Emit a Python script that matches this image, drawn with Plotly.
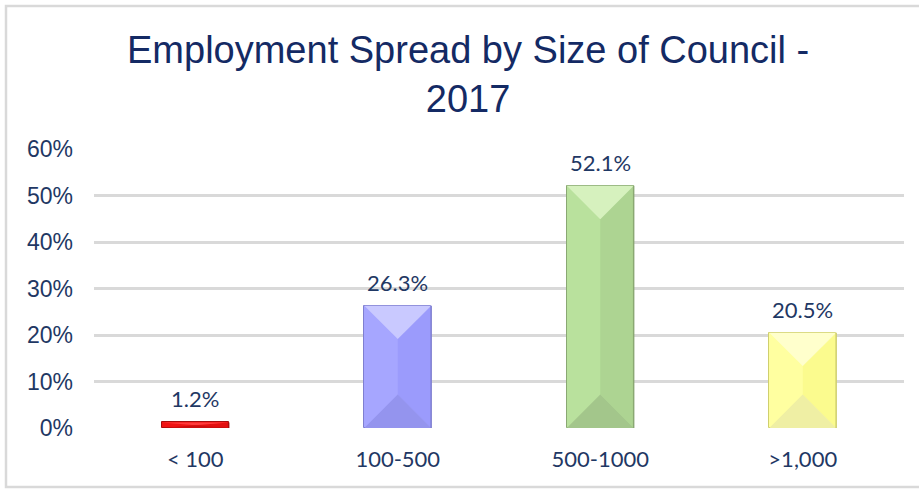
import plotly.graph_objects as go

# Chart data
categories = ["< 100", "100-500", "500-1000", ">1,000"]
shares = [0.012, 0.263, 0.521, 0.205]
labels = ["1.2%", "26.3%", "52.1%", "20.5%"]
y_ticks = [0, 0.1, 0.2, 0.3, 0.4, 0.5, 0.6]
y_tick_text = ["0%", "10%", "20%", "30%", "40%", "50%", "60%"]

# Bevel palette per bar: (base/left, right face, top facet, bottom facet, outline)
palettes = [
    ("#f01414", "#e31010", "#ff3c3c", "#cc0e0e", "#a80c0c"),
    ("#a6a6ff", "#9b9bfc", "#c9c9ff", "#9494ee", "#7f7fd0"),
    ("#b9e19d", "#add492", "#d6f1be", "#a3c68b", "#8aa873"),
    ("#ffffa0", "#fbfb8e", "#ffffcc", "#efefa4", "#cfcf6e"),
]

W, H = 919, 489
M_L, M_R, M_T, M_B = 94, 15, 149, 61
Y_MAX = 0.6
BAR_W = 0.33
X_RANGE = (-0.5, len(categories) - 0.5)

plot_w = W - M_L - M_R
plot_h = H - M_T - M_B
px_per_x = plot_w / (X_RANGE[1] - X_RANGE[0])
px_per_y = plot_h / Y_MAX

xs = list(range(len(categories)))

fig = go.Figure()

fig.add_trace(go.Bar(
    x=xs, y=shares, width=BAR_W,
    marker=dict(color=[p[0] for p in palettes],
                line=dict(color=[p[4] for p in palettes], width=1)),
    hoverinfo="skip", showlegend=False,
))

# Bevelled facets drawn over each bar
for i, (v, pal) in enumerate(zip(shares, palettes)):
    x0, x1 = i - BAR_W / 2, i + BAR_W / 2
    depth_px = min(BAR_W * px_per_x / 2, v * px_per_y / 2)
    d = depth_px / px_per_y
    facets = [
        ([i, x1, x1, i, i], [v - d, v, 0, d, v - d], pal[1]),
        ([x0, x1, i, x0], [v, v, v - d, v], pal[2]),
        ([x0, x1, i, x0], [0, 0, d, 0], pal[3]),
    ]
    for fx, fy, col in facets:
        fig.add_trace(go.Scatter(
            x=fx, y=fy, fill="toself", fillcolor=col, mode="lines",
            line=dict(width=0), hoverinfo="skip", showlegend=False,
        ))
    # thin darker rim on the right edge
    fig.add_trace(go.Scatter(
        x=[x1, x1], y=[0, v], mode="lines",
        line=dict(color=pal[4], width=1.5), hoverinfo="skip", showlegend=False,
    ))

for i, (v, t) in enumerate(zip(shares, labels)):
    fig.add_annotation(
        x=i, y=v, text=t, showarrow=False, yanchor="bottom", yshift=8,
        font=dict(family="Lato", size=22, color="#1f3864"),
    )

# Chart title, two lines
fig.add_annotation(
    xref="paper", yref="paper",
    x=(468 - M_L) / plot_w, y=(H - M_B - 74) / plot_h,
    xanchor="center", yanchor="middle", showarrow=False,
    text="Employment Spread by Size of Council -<br>2017",
    font=dict(family="Liberation Sans", size=38, color="#142a64"),
)

# Outer chart frame
frame_x0 = (6 - M_L) / plot_w
frame_x1 = (W + 10 - M_L) / plot_w
frame_y1 = (H - M_B - 6) / plot_h
frame_y0 = (H - M_B - 487) / plot_h
fig.add_shape(type="rect", xref="paper", yref="paper",
              x0=frame_x0, x1=frame_x1, y0=frame_y0, y1=frame_y1,
              line=dict(color="#d9d9d9", width=2.5), layer="below")

fig.update_layout(
    width=W, height=H,
    margin=dict(l=M_L, r=M_R, t=M_T, b=M_B),
    paper_bgcolor="white", plot_bgcolor="white",
    xaxis=dict(
        range=list(X_RANGE), tickmode="array", tickvals=xs, ticktext=categories,
        showgrid=False, zeroline=False, showline=False, ticks="",
        ticklabelstandoff=16,
        tickfont=dict(family="Lato", size=22, color="#1f3864"),
    ),
    yaxis=dict(
        range=[0, Y_MAX], tickmode="array", tickvals=y_ticks, ticktext=y_tick_text,
        showgrid=True, gridcolor="#d9d9d9", gridwidth=2.5,
        zeroline=False, showline=False, ticks="", ticklen=0,
        ticklabelstandoff=20,
        tickfont=dict(family="Liberation Sans", size=23, color="#1f3864"),
    ),
    bargap=0,
)

fig.write_html("out.html")
